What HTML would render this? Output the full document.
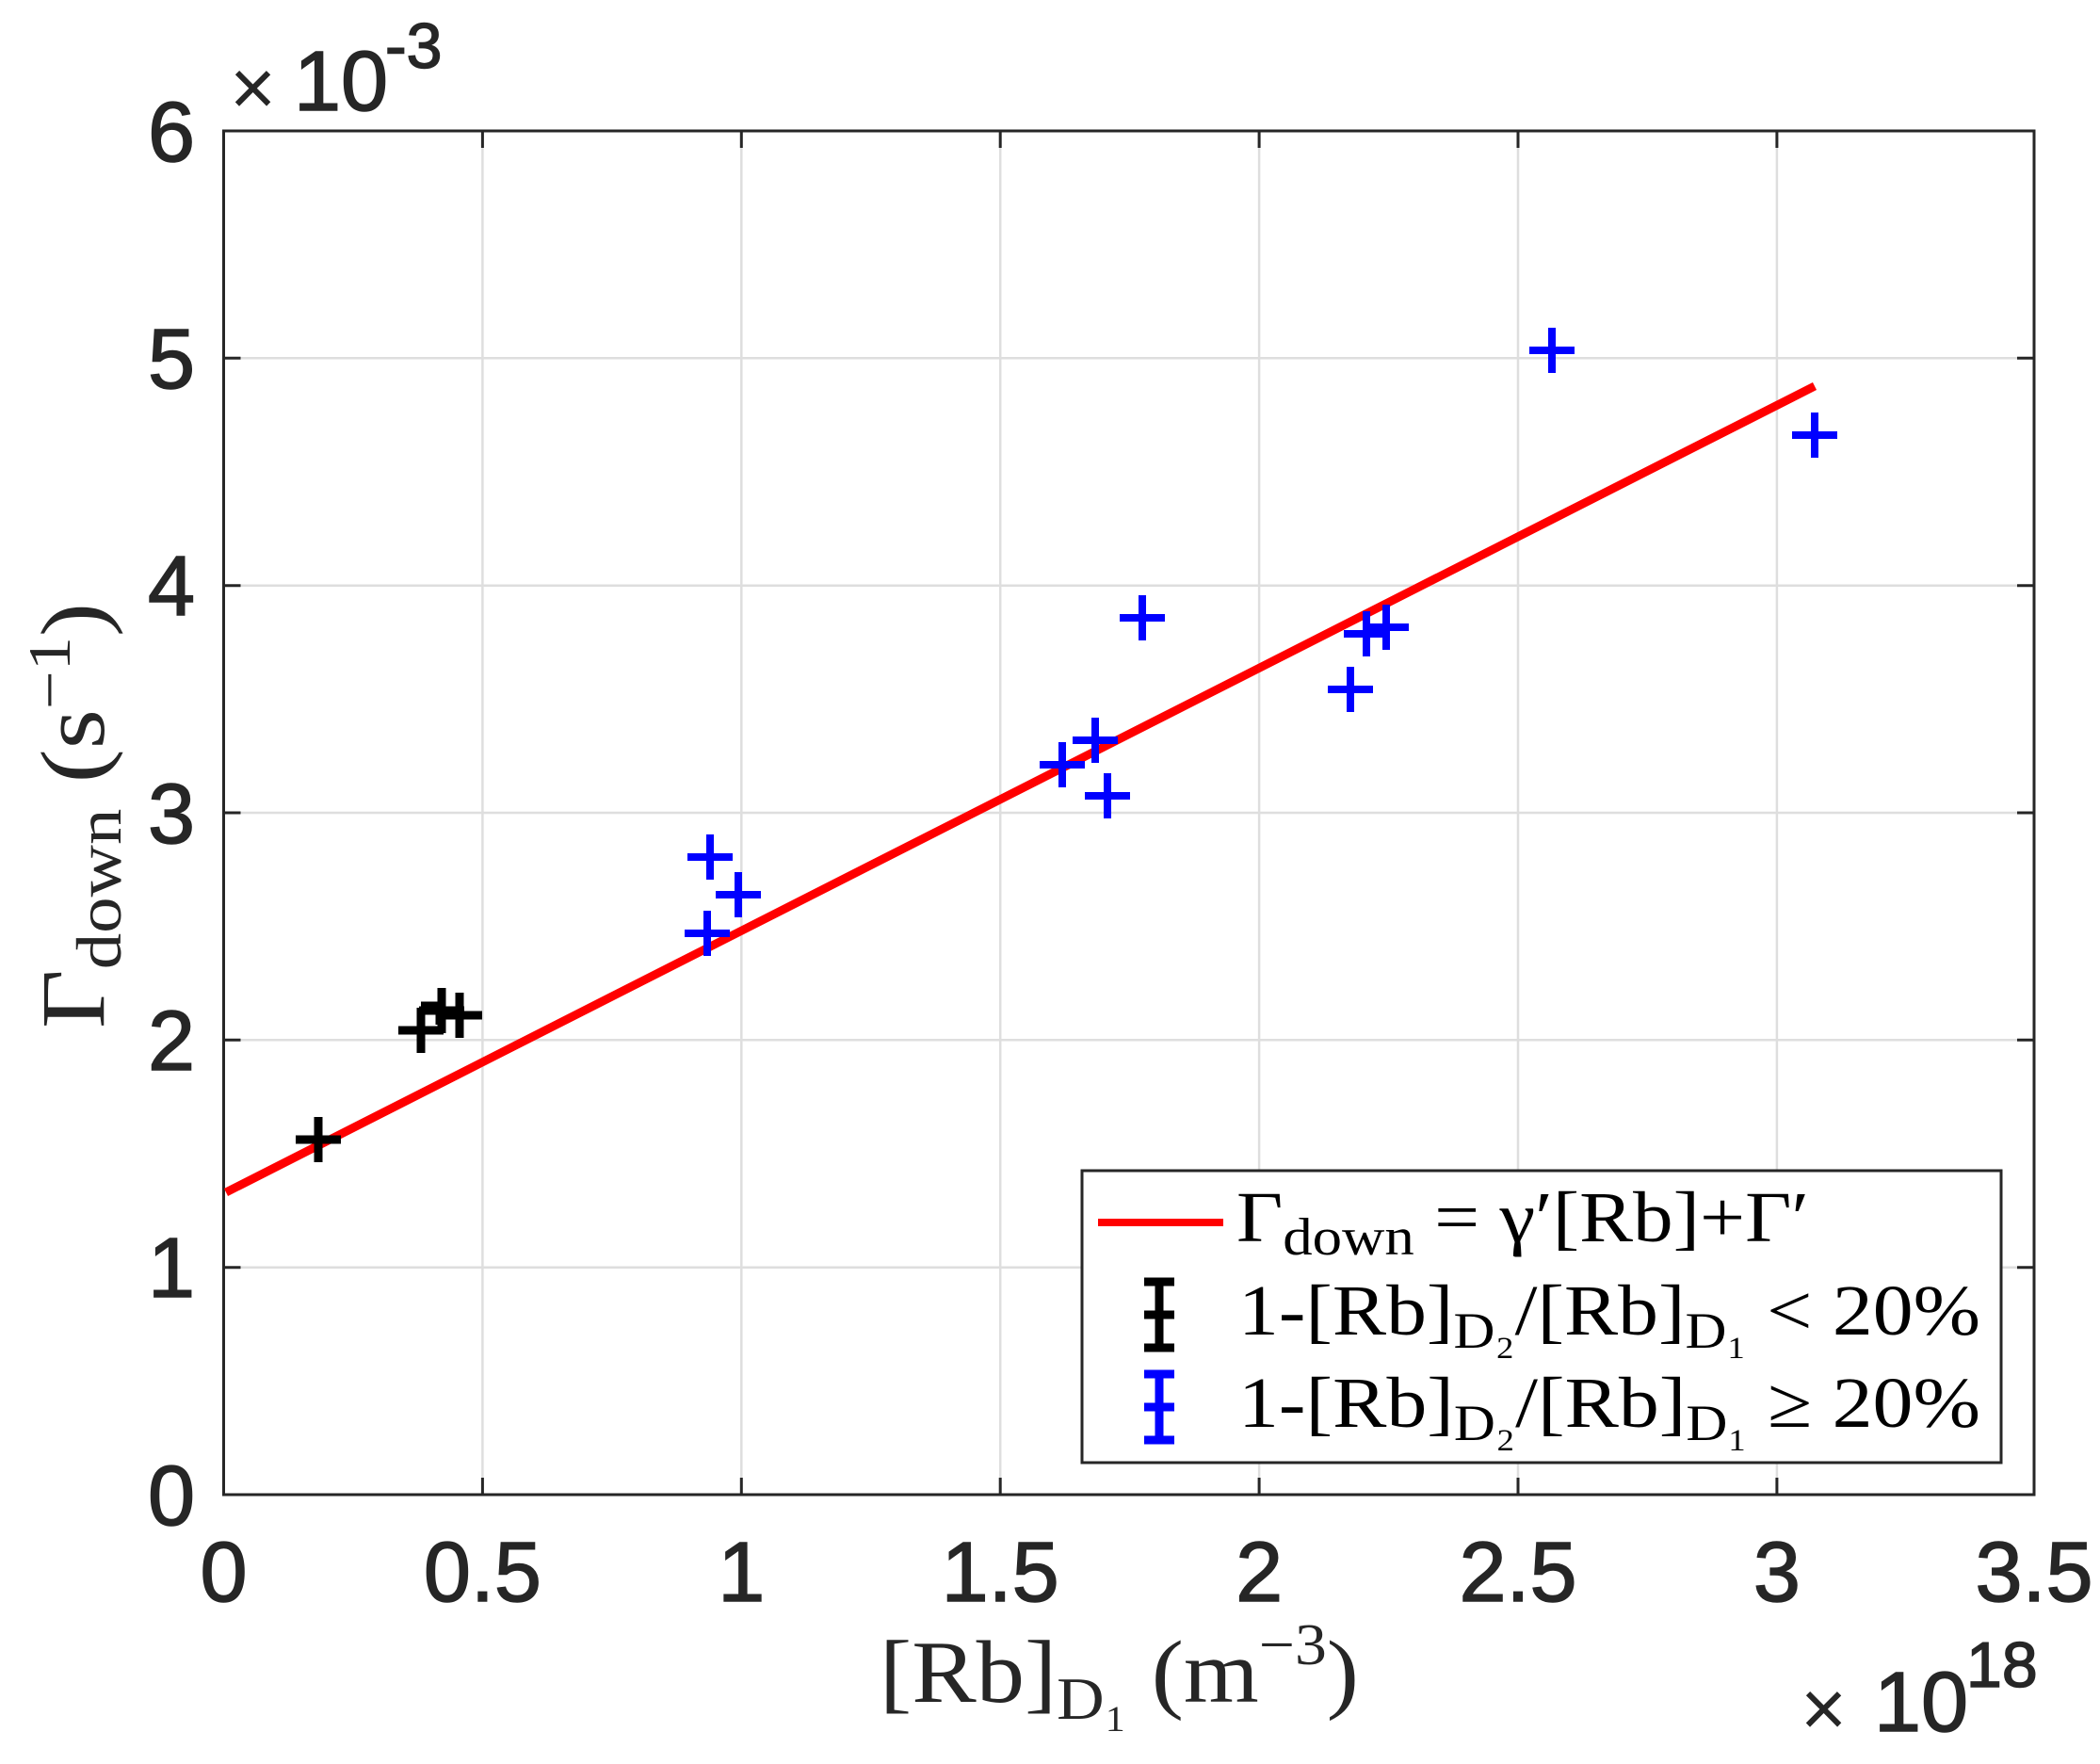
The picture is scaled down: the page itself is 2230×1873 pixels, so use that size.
<!DOCTYPE html>
<html><head><meta charset="utf-8"><style>html,body{margin:0;padding:0;background:#fff}svg{display:block}</style></head>
<body>
<svg width="2230" height="1873" viewBox="0 0 2230 1873" xmlns="http://www.w3.org/2000/svg">
<rect width="2230" height="1873" fill="#fff"/>
<g stroke="#dedede" stroke-width="2.5">
<line x1="512.4" y1="139" x2="512.4" y2="1587"/><line x1="787.3" y1="139" x2="787.3" y2="1587"/>
<line x1="1062.2" y1="139" x2="1062.2" y2="1587"/><line x1="1337.1" y1="139" x2="1337.1" y2="1587"/>
<line x1="1612" y1="139" x2="1612" y2="1587"/><line x1="1886.9" y1="139" x2="1886.9" y2="1587"/>
<line x1="237.5" y1="1345.7" x2="2160" y2="1345.7"/><line x1="237.5" y1="1104.3" x2="2160" y2="1104.3"/>
<line x1="237.5" y1="863" x2="2160" y2="863"/><line x1="237.5" y1="621.7" x2="2160" y2="621.7"/>
<line x1="237.5" y1="380.3" x2="2160" y2="380.3"/>
</g>
<g stroke="#262626" stroke-width="3">
<path d="M512.4 1587v-18M787.3 1587v-18M1062.2 1587v-18M1337.1 1587v-18M1612 1587v-18M1886.9 1587v-18M512.4 139v18M787.3 139v18M1062.2 139v18M1337.1 139v18M1612 139v18M1886.9 139v18"/>
<path d="M237.5 1345.7h18M237.5 1104.3h18M237.5 863h18M237.5 621.7h18M237.5 380.3h18M2160 1345.7h-18M2160 1104.3h-18M2160 863h-18M2160 621.7h-18M2160 380.3h-18"/>
<rect x="237.5" y="139" width="1922.5" height="1448" fill="none"/>
</g>
<line x1="240" y1="1266" x2="1927" y2="410" stroke="#ff0000" stroke-width="9"/>
<g stroke="#000" stroke-width="9" fill="none">
<path d="M314 1210h48M338 1186v48"/>
<path d="M423 1094h48M447 1070v48"/>
<path d="M445 1073h48M469 1049v48"/>
<path d="M464 1078h48M488 1054v48"/>
<path d="M447 1068h20v20"/>
</g>
<g stroke="#0000ff" stroke-width="8" fill="none">
<path d="M730 910h48M754 886v48"/>
<path d="M727 991h48M751 967v48"/>
<path d="M760 950h48M784 926v48"/>
<path d="M1104 812h48M1128 788v48"/>
<path d="M1139 786h48M1163 762v48"/>
<path d="M1152 845h48M1176 821v48"/>
<path d="M1189 656h48M1213 632v48"/>
<path d="M1410 732h48M1434 708v48"/>
<path d="M1427 673h48M1451 649v48"/>
<path d="M1448 666h48M1472 642v48"/>
<path d="M1624 372h48M1648 348v48"/>
<path d="M1903 462h48M1927 438v48"/>
</g>
<g font-family="Liberation Sans, sans-serif" font-size="90" fill="#262626" stroke="#262626" stroke-width="1.5">
<g text-anchor="end">
<text x="207" y="1619">0</text><text x="207" y="1377">1</text><text x="207" y="1136">2</text>
<text x="207" y="895">3</text><text x="207" y="653">4</text><text x="207" y="412">5</text><text x="207" y="171">6</text>
</g>
<g text-anchor="middle">
<text x="237.5" y="1700">0</text><text x="512.4" y="1700">0.5</text><text x="787.3" y="1700">1</text>
<text x="1062.2" y="1700">1.5</text><text x="1337.1" y="1700">2</text><text x="1612" y="1700">2.5</text>
<text x="1886.9" y="1700">3</text><text x="2160" y="1700">3.5</text>
</g>
<text x="244" y="122" font-size="84" stroke-width="0">×</text><text x="312" y="117">10</text><text x="409" y="72" font-size="68">-3</text>
<text x="1912" y="1843" font-size="84" stroke-width="0">×</text><text x="1990" y="1838">10</text><text x="2088" y="1791" font-size="68">18</text>
</g>
<g font-family="Liberation Serif, serif" fill="#262626">
<text transform="translate(110,1092) rotate(-90)" font-size="96" textLength="452" lengthAdjust="spacingAndGlyphs">Γ<tspan font-size="68" dy="18">down</tspan><tspan dy="-18"> (s</tspan><tspan font-size="64" dy="-36">−1</tspan><tspan dy="36">)</tspan></text>
<text x="934" y="1807" font-size="94" textLength="509" lengthAdjust="spacingAndGlyphs">[Rb]<tspan font-size="64" dy="18">D₁</tspan><tspan dy="-18">  (m</tspan><tspan font-size="62" dy="-40">−3</tspan><tspan dy="40">)</tspan></text>
</g>
<rect x="1149" y="1243" width="976" height="310" fill="#fff" stroke="#262626" stroke-width="3"/>
<line x1="1166" y1="1298" x2="1299" y2="1298" stroke="#ff0000" stroke-width="8"/>
<g stroke="#000" stroke-width="9"><path d="M1231 1357v78M1215 1361h32M1215 1396h32M1215 1431h32"/></g>
<g stroke="#0000ff" stroke-width="9"><path d="M1231 1455v78M1215 1459h32M1215 1494h32M1215 1529h32"/></g>
<g font-family="Liberation Serif, serif" font-size="76" fill="#000">
<text x="1313" y="1318" textLength="608" lengthAdjust="spacingAndGlyphs">Γ<tspan font-size="56" dy="14">down</tspan><tspan dy="-14"> = γ′[Rb]+Γ′</tspan></text>
<text x="1315" y="1417" textLength="788" lengthAdjust="spacingAndGlyphs">1-[Rb]<tspan font-size="54" dy="14">D₂</tspan><tspan dy="-14">/[Rb]</tspan><tspan font-size="54" dy="14">D₁</tspan><tspan dy="-14"> &lt; 20%</tspan></text>
<text x="1315" y="1515" textLength="788" lengthAdjust="spacingAndGlyphs">1-[Rb]<tspan font-size="54" dy="14">D₂</tspan><tspan dy="-14">/[Rb]</tspan><tspan font-size="54" dy="14">D₁</tspan><tspan dy="-14"> ≥ 20%</tspan></text>
</g>
</svg>
</body></html>
